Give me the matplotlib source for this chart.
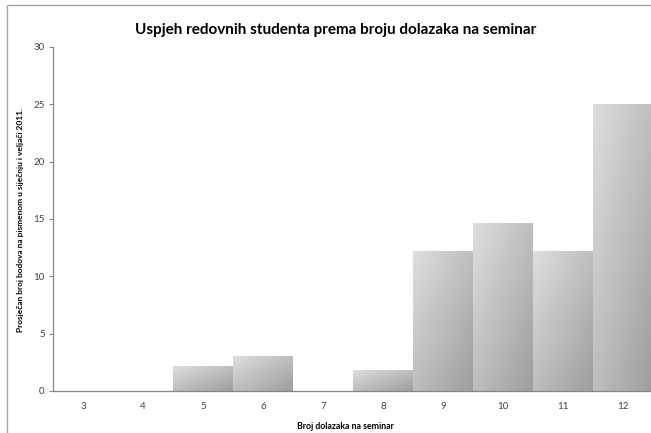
import matplotlib
matplotlib.use("Agg")
import matplotlib.pyplot as plt
import numpy as np
from matplotlib.patches import Rectangle

# broj dolazaka i prosjecni bodovi
dolasci = [3, 4, 5, 6, 7, 8, 9, 10, 11, 12]
bodovi = [0, 0, 2.1, 3.0, 0, 1.75, 12.15, 14.6, 12.2, 25.0]

plt.rcParams['font.family'] = ['Lato', 'DejaVu Sans']

fig = plt.figure(figsize=(6.51, 4.33), dpi=100)
W, H = 651, 433

# okvir grafikona
fig.patches.append(Rectangle((7 / W, -0.1), 1.2, 1 - 5 / H + 0.1,
                             transform=fig.transFigure, fill=False,
                             edgecolor='#a6a6a6', linewidth=1.0))

ax = fig.add_axes([53 / W, (H - 391) / H, 600 / W, (391 - 47) / H])

bars = ax.bar(dolasci, bodovi, width=1.0, color='none', edgecolor='none')

# dijagonalni gradijent (svijetlo gore lijevo, tamnije dolje desno)
u = np.linspace(0, 1, 64)
uu, vv = np.meshgrid(u, u)
grad = (uu + vv) / 2
light, dark = 0.87, 0.62
img = light - (light - dark) * grad
for b in bars:
    h = b.get_height()
    if h <= 0:
        continue
    x0 = b.get_x()
    ax.imshow(img, cmap='gray', vmin=0, vmax=1, aspect='auto',
              extent=(x0, x0 + b.get_width(), 0, h), origin='upper',
              interpolation='bilinear', zorder=2)

ax.set_xlim(2.5, 12.5)
ax.set_ylim(0, 30)
ax.set_xticks(dolasci)
ax.set_xticklabels([str(d) for d in dolasci])
ax.set_yticks(range(0, 31, 5))

for s in ['top', 'right']:
    ax.spines[s].set_visible(False)
for s in ['left', 'bottom']:
    ax.spines[s].set_color('#868686')
    ax.spines[s].set_linewidth(0.9)
ax.spines['bottom'].set_zorder(3)

ax.tick_params(axis='y', length=3, width=0.8, color='#868686',
               labelsize=7, labelcolor='#404040', pad=3)
ax.tick_params(axis='x', length=0, labelsize=7, labelcolor='#404040', pad=8)

ax.set_ylabel('Prosječan broj bodova na pismenom u siječnju i veljači 2011.',
              fontsize=6, fontweight='bold')
ax.yaxis.set_label_coords(-0.048, 0.497)
ax.set_xlabel('Broj dolazaka na seminar', fontsize=6.3, fontweight='bold')
ax.xaxis.set_label_coords(0.488, -0.09)

fig.text(336 / W, 1 - 30 / H, 'Uspjeh redovnih studenta prema broju dolazaka na seminar',
         ha='center', va='center', fontsize=11, fontweight='bold')

fig.savefig('out.png', dpi=100)
